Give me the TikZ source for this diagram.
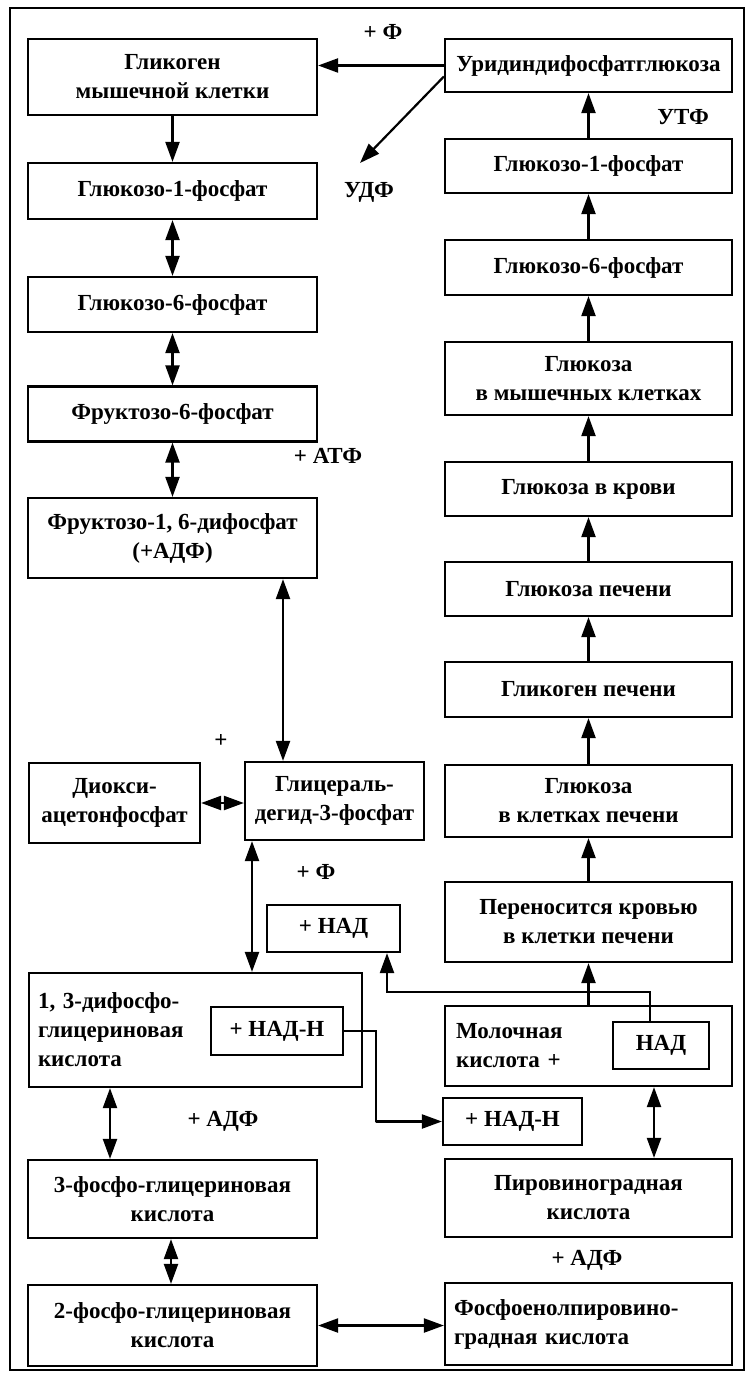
\documentclass[tikz,border=0pt]{standalone}
\usepackage{fontspec}
\setmainfont{Liberation Serif}
\usetikzlibrary{arrows.meta,calc}
\begin{document}
\begin{tikzpicture}[x=1pt,y=-1pt,
  every node/.style={font=\fontsize{23}{29}\selectfont\bfseries},
  box/.style={draw, line width=2.2pt, inner sep=0pt, align=center},
  lbox/.style={draw, line width=2.2pt, inner ysep=0pt, align=left},
  arr/.style={line width=2.2pt, -{Triangle[length=20pt,width=14pt]}},
  dbl/.style={line width=2.2pt, {Triangle[length=20pt,width=14pt]}-{Triangle[length=20pt,width=14pt]}},
  lbl/.style={inner sep=0pt}]
\useasboundingbox (0,0) rectangle (748,1375);
\draw[line width=1.6pt] (10,8) rectangle (744,1370);
% left column
\node[box, minimum width=289pt, minimum height=76pt] (L1) at (172.5,77) {Гликоген\\мышечной клетки};
\node[box, minimum width=289pt, minimum height=56pt] (L2) at (172.5,191) {Глюкозо-1-фосфат};
\node[box, minimum width=289pt, minimum height=55pt] (L3) at (172.5,304.5) {Глюкозо-6-фосфат};
\node[box, minimum width=289pt, minimum height=55pt] (L4) at (172.5,414) {Фруктозо-6-фосфат};
\node[box, minimum width=289pt, minimum height=80pt] (L5) at (172.5,538) {Фруктозо-1, 6-дифосфат\\(+АДФ)};
\node[box, minimum width=171pt, minimum height=80pt] (Dx) at (114.5,803) {Диокси-\\ацетонфосфат};
\node[box, minimum width=179pt, minimum height=78pt] (Gl) at (334.5,801) {Глицераль-\\дегид-3-фосфат};
\node[box, minimum width=133pt, minimum height=47pt] (NADbox) at (333.5,928.5) {+ НАД};
\node[lbox, inner xsep=9pt, text width=315pt, minimum height=114pt] (B13) at (195.5,1030) {1, 3-дифосфо-\\глицериновая\\кислота};
\node[box, minimum width=132pt, minimum height=48pt] (NADHin) at (277,1031) {+ НАД-Н};
\node[box, minimum width=139pt, minimum height=47pt] (NADHout) at (512.5,1121.5) {+ НАД-Н};
\node[box, minimum width=289pt, minimum height=78pt] (P3) at (172.5,1199) {3-фосфо-глицериновая\\кислота};
\node[box, minimum width=289pt, minimum height=81pt] (P2) at (172.5,1325.5) {2-фосфо-глицериновая\\кислота};
% right column
\node[box, minimum width=287pt, minimum height=53pt] (R1) at (588.5,65.5) {Уридиндифосфатглюкоза};
\node[box, minimum width=287pt, minimum height=54pt] (R2) at (588.5,166) {Глюкозо-1-фосфат};
\node[box, minimum width=287pt, minimum height=55pt] (R3) at (588.5,267.5) {Глюкозо-6-фосфат};
\node[box, minimum width=287pt, minimum height=73pt] (R4) at (588.5,378.5) {Глюкоза\\в мышечных клетках};
\node[box, minimum width=287pt, minimum height=54pt] (R5) at (588.5,489) {Глюкоза в крови};
\node[box, minimum width=287pt, minimum height=54pt] (R6) at (588.5,589) {Глюкоза печени};
\node[box, minimum width=287pt, minimum height=55pt] (R7) at (588.5,689.5) {Гликоген печени};
\node[box, minimum width=287pt, minimum height=72pt] (R8) at (588.5,801) {Глюкоза\\в клетках печени};
\node[box, minimum width=287pt, minimum height=80pt] (R9) at (588.5,922) {Переносится кровью\\в клетки печени};
\node[lbox, inner xsep=11pt, text width=265pt, minimum height=80pt] (R10) at (588.5,1046) {Молочная\\кислота +};
\node[box, minimum width=96pt, minimum height=47pt] (NADin) at (661,1045.5) {НАД};
\node[box, minimum width=287pt, minimum height=78pt] (R11) at (588.5,1198) {Пировиноградная\\кислота};
\node[lbox, inner xsep=9pt, text width=269pt, minimum height=82pt] (R12) at (588.5,1324) {Фосфоенолпировино-\\градная кислота};
% labels
\node[lbl] (t1) at (383,32) {+ Ф};
\node[lbl] (t2) at (369,192) {УДФ};
\node[lbl] (t3) at (683,117) {УТФ};
\node[lbl] (t4) at (328,456) {+ АТФ};
\node[lbl] (t5) at (221,741) {+};
\node[lbl] (t6) at (316,872) {+ Ф};
\node[lbl] (t7) at (223,1121) {+ АДФ};
\node[lbl] (t8) at (587,1260) {+ АДФ};
% helper coordinates
\coordinate (udf) at (360,163);
\coordinate (xa) at (283,0);
\coordinate (xb) at (252,0);
\coordinate (xc) at (110,0);
\coordinate (xd) at (654,0);
\coordinate (k1) at (650,992);
\coordinate (k2) at (387,992);
\coordinate (k3) at (376,1122);
% connectors
\draw[arr] (R1.west) -- (R1.west -| L1.east);
\draw[arr] ([yshift=-11pt]R1.west) -- (udf);
\draw[arr] (L1.south) -- (L2.north);
\draw[dbl] (L2.south) -- (L3.north);
\draw[dbl] (L3.south) -- (L4.north);
\draw[dbl] (L4.south) -- (L5.north);
\draw[dbl] (L5.south -| xa) -- (Gl.north -| xa);
\draw[dbl] (Dx.east) -- (Dx.east -| Gl.west);
\draw[dbl] (Gl.south -| xb) -- (B13.north -| xb);
\draw[dbl] (B13.south -| xc) -- (P3.north -| xc);
\draw[dbl] ([xshift=-1.5pt]P3.south) -- ([xshift=-1.5pt]P2.north);
\draw[dbl] (P2.east) -- (P2.east -| R12.west);
\draw[dbl] (R10.south -| xd) -- (R11.north -| xd);
\draw[arr] (R10.north) -- (R9.south);
\draw[arr] (R9.north) -- (R8.south);
\draw[arr] (R8.north) -- (R7.south);
\draw[arr] (R7.north) -- (R6.south);
\draw[arr] (R6.north) -- (R5.south);
\draw[arr] (R5.north) -- (R4.south);
\draw[arr] (R4.north) -- (R3.south);
\draw[arr] (R3.north) -- (R2.south);
\draw[arr] (R2.north) -- (R1.south);
\draw[arr] (NADin.north -| k1) -- (k1) -- (k2) -- (NADbox.south -| k2);
\draw[arr] (NADHin.east) -| (k3) |- (NADHout.west);
\end{tikzpicture}
\end{document}
